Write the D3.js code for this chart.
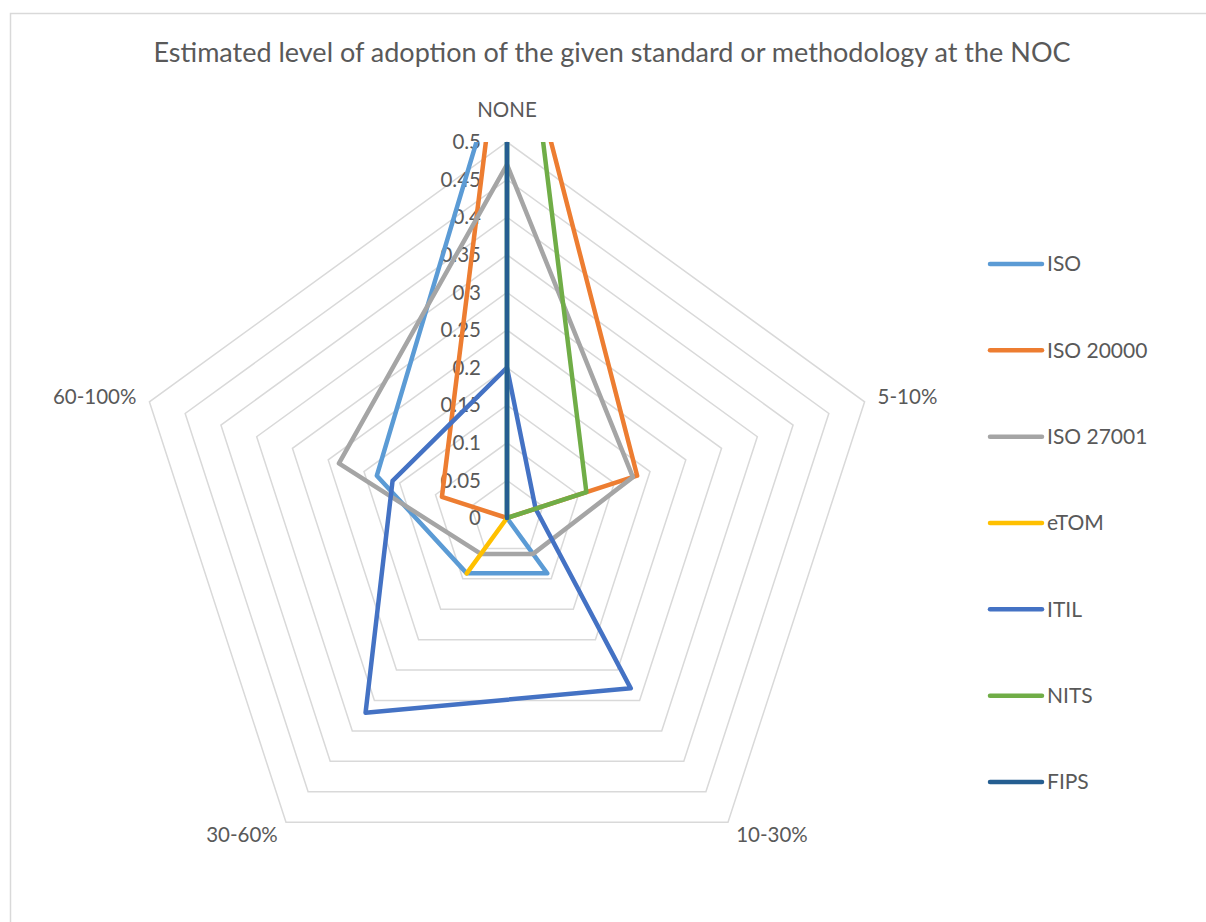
<!DOCTYPE html>
<html>
<head>
<meta charset="utf-8">
<script src="https://cdn.jsdelivr.net/npm/d3@7"></script>
<style>
  html, body { margin: 0; padding: 0; background: #ffffff; }
  svg { display: block; }
  text { font-family: Lato, "Open Sans", sans-serif; fill: #595959; }
</style>
</head>
<body>
<svg id="chart" width="1206" height="922"></svg>
<script>
// Adoption categories (radar axes, clockwise from top)
const categories = ["NONE", "5-10%", "10-30%", "30-60%", "60-100%"];

// Share of respondents per adoption level, one array per standard
const seriesNames = ["ISO", "ISO 20000", "ISO 27001", "eTOM", "ITIL", "NITS", "FIPS"];
const isoValues      = [0.636, 0,     0.091, 0.091, 0.182];
const iso20000Values = [0.727, 0.182, 0,     0,     0.091];
const iso27001Values = [0.47,  0.176, 0.059, 0.059, 0.235];
const etomValues     = [0,     0,     0,     0.091, 0];
const itilValues     = [0.2,   0.04,  0.28,  0.32,  0.16];
const nitsValues     = [0.889, 0.111, 0,     0,     0];
const fipsValues     = [1,     0,     0,     0,     0];

const tickValues = [0, 0.05, 0.1, 0.15, 0.2, 0.25, 0.3, 0.35, 0.4, 0.45, 0.5];
const tickLabels = ["0", "0.05", "0.1", "0.15", "0.2", "0.25", "0.3", "0.35", "0.4", "0.45", "0.5"];

const seriesColors = ["#5B9BD5", "#ED7D31", "#A5A5A5", "#FFC000", "#4472C4", "#70AD47", "#255E91"];
const title = "Estimated level of adoption of the given standard or methodology at the NOC";

const series = seriesNames.map((name, i) => ({
  name,
  color: seriesColors[i],
  values: [isoValues, iso20000Values, iso27001Values, etomValues, itilValues, nitsValues, fipsValues][i]
}));

const svg = d3.select("#chart");
const cx = 507, cy = 518, R = 376;

const r = d3.scaleLinear().domain([0, 0.5]).range([0, R]);
const angle = d3.scalePoint().domain(categories).range([0, 2 * Math.PI * 4 / 5]);

function pt(cat, v) {
  const a = angle(cat);
  return [cx + Math.sin(a) * r(v), cy - Math.cos(a) * r(v)];
}

// Chart frame
svg.append("rect")
  .attr("x", 10.5).attr("y", 13.5)
  .attr("width", 1300).attr("height", 1000)
  .attr("fill", "#ffffff")
  .attr("stroke", "#D9D9D9").attr("stroke-width", 1.5);

// Title
svg.append("text")
  .attr("x", 612).attr("y", 62)
  .attr("text-anchor", "middle")
  .attr("font-size", 27)
  .text(title);

// Plot-area clip: anything past the outer ring at the top is cut off
svg.append("defs").append("clipPath").attr("id", "plotClip")
  .append("rect")
  .attr("x", 0).attr("y", cy - R)
  .attr("width", 1206).attr("height", 922);

// Grid rings
const gridG = svg.append("g");
tickValues.filter(t => t > 0).forEach(t => {
  gridG.append("path")
    .attr("d", d3.line()(categories.map(c => pt(c, t))) + "Z")
    .attr("fill", "none")
    .attr("stroke", "#D9D9D9")
    .attr("stroke-width", 1.5);
});

// Radial axis labels along the NONE spoke
svg.append("g").selectAll("text")
  .data(tickValues)
  .join("text")
  .attr("x", cx - 26)
  .attr("y", d => cy - r(d))
  .attr("dy", "0.35em")
  .attr("text-anchor", "end")
  .attr("font-size", 20.5)
  .text((d, i) => tickLabels[i]);

// Category labels
const catLabelPos = {
  "NONE":    { dx: 0,   dy: -32, anchor: "middle" },
  "5-10%":   { dx: 13,  dy: -5,  anchor: "start" },
  "10-30%":  { dx: 44,  dy: 13,  anchor: "middle" },
  "30-60%":  { dx: -44, dy: 13,  anchor: "middle" },
  "60-100%": { dx: -13, dy: -5,  anchor: "end" }
};
svg.append("g").selectAll("text")
  .data(categories)
  .join("text")
  .attr("x", d => pt(d, 0.5)[0] + catLabelPos[d].dx)
  .attr("y", d => pt(d, 0.5)[1] + catLabelPos[d].dy)
  .attr("dy", "0.35em")
  .attr("text-anchor", d => catLabelPos[d].anchor)
  .attr("font-size", 20.5)
  .text(d => d);

// Series lines
const lineGen = d3.line();
svg.append("g").attr("clip-path", "url(#plotClip)")
  .selectAll("path")
  .data(series)
  .join("path")
  .attr("d", s => lineGen(categories.map((c, i) => pt(c, s.values[i]))) + "Z")
  .attr("fill", "none")
  .attr("stroke", s => s.color)
  .attr("stroke-width", 4.5)
  .attr("stroke-linejoin", "round")
  .attr("stroke-linecap", "round");

// Legend
const legendY = d3.scalePoint().domain(seriesNames).range([264, 782]);
const legend = svg.append("g").selectAll("g")
  .data(series)
  .join("g")
  .attr("transform", s => `translate(0,${legendY(s.name)})`);
legend.append("line")
  .attr("x1", 990).attr("x2", 1042)
  .attr("stroke", s => s.color)
  .attr("stroke-width", 4.5)
  .attr("stroke-linecap", "round");
legend.append("text")
  .attr("x", 1047)
  .attr("dy", "0.35em")
  .attr("font-size", 21)
  .text(s => s.name);
</script>
</body>
</html>
